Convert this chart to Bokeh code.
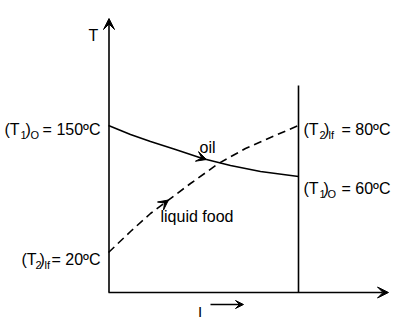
from bokeh.plotting import figure
from bokeh.models import Range1d, Arrow, VeeHead
from bokeh.core.properties import value
from bokeh.embed import file_html
from bokeh.resources import INLINE

# schematic coordinates (position along exchanger, temperature level in diagram units)
oil_x = [108, 130, 150, 175, 202, 230, 260, 298]
oil_y = [125, 134, 141, 149, 158, 165, 171, 176]
food_x = [108, 130, 150, 166, 190, 218, 245, 270, 298]
food_y = [252, 231, 213, 201, 183, 163, 148, 137, 125]

temps = ["= 150ºC", "= 80ºC", "= 60ºC", "= 20ºC"]
subs = [("1", "O"), ("2", "lf"), ("1", "O"), ("2", "lf")]
curve_labels = ["oil", "liquid food"]
axis_labels = ["T", "I"]

FONT = value("Liberation Sans")
DY = -4  # baseline correction

p = figure(width=400, height=319, output_backend="svg", toolbar_location=None,
           x_range=Range1d(0, 400), y_range=Range1d(319, 0), min_border=0)
p.axis.visible = False
p.grid.visible = False
p.outline_line_color = None


def txt(x, y, s, size=16, align="left"):
    p.text(x=[x], y=[y + DY], text=[s], text_font=FONT, text_font_size=f"{size}px",
           text_align=align, text_baseline="alphabetic", text_color="black")


# axes
p.add_layout(Arrow(end=VeeHead(size=11, fill_color="black", line_color="black", line_width=1),
                   x_start=108.5, y_start=292, x_end=108.5, y_end=18, line_width=1.6))
p.add_layout(Arrow(end=VeeHead(size=11, fill_color="black", line_color="black", line_width=1),
                   x_start=108, y_start=292, x_end=388, y_end=292, line_width=1.6))
p.segment(x0=[298], y0=[85], x1=[298], y1=[292], line_width=1.6, color="black")

# curves
p.line(oil_x, oil_y, line_width=1.6, color="black")
p.line(food_x, food_y, line_width=1.6, color="black", line_dash="8 5")

# direction arrows on curves
p.add_layout(Arrow(end=VeeHead(size=10, fill_color="black", line_color="black", line_width=1),
                   x_start=oil_x[3], y_start=oil_y[3], x_end=oil_x[4] + 4, y_end=oil_y[4] + 1,
                   line_alpha=0))
p.add_layout(Arrow(end=VeeHead(size=10, fill_color="black", line_color="black", line_width=1),
                   x_start=food_x[2], y_start=food_y[2], x_end=food_x[3] + 2, y_end=food_y[3] - 1.5,
                   line_alpha=0))

# axis labels
txt(88, 39, axis_labels[0])
txt(197.5, 315, axis_labels[1], size=15)
p.add_layout(Arrow(end=VeeHead(size=8, fill_color="black", line_color="black", line_width=1),
                   x_start=210, y_start=304, x_end=243, y_end=304, line_width=1.5))

# curve labels
txt(199, 151, curve_labels[0])
txt(160, 220, curve_labels[1])

# temperature labels: (x of "(T", baseline, x of sub1, x of ")", x of sub2, right edge)
layout = [
    (4, 133, 20, 25, 30, 100),
    (303, 133, 319, 323.5, 328, 390),
    (303, 192, 319, 323, 327, 390),
    (21, 263, 35, 39, 44, 100),
]
for (x0, yb, xs1, xp, xs2, xr), t, (s1, s2) in zip(layout, temps, subs):
    txt(x0, yb, "(T")
    txt(xs1, yb + 5, s1, size=11)
    txt(xp, yb, ")")
    txt(xs2, yb + 5, s2, size=11)
    txt(xr, yb, t, align="right")

open("out.html", "w").write(file_html(p, INLINE))
